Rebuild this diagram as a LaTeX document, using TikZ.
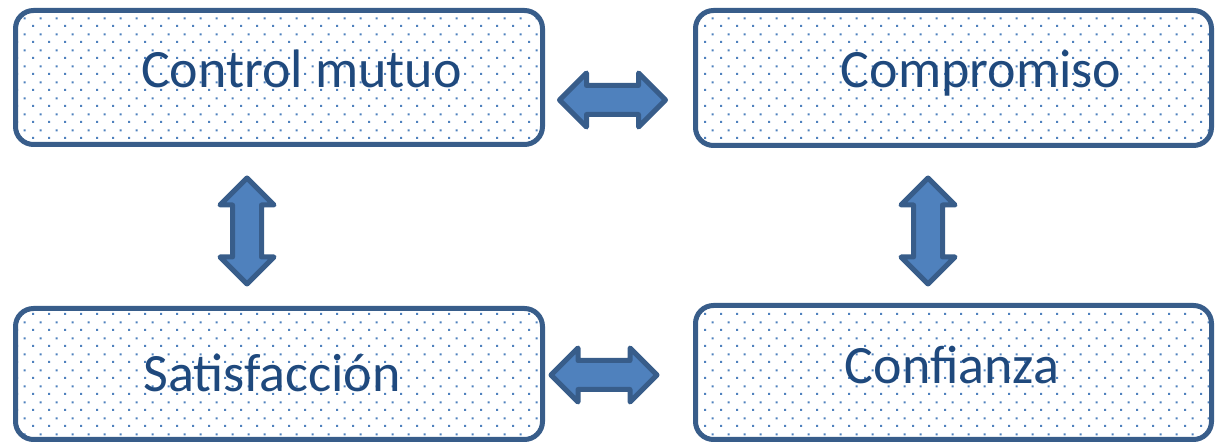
\documentclass[tikz,border=0pt]{standalone}
\usepackage{fontspec}
\setmainfont{Carlito}
\usepackage{tikz}
\usetikzlibrary{shapes.arrows,patterns.meta}

\definecolor{boxline}{HTML}{385D8A}
\definecolor{boxtext}{HTML}{1F497D}
\definecolor{dotblue}{HTML}{4F81BD}

\tikzdeclarepattern{
  name=sparsedots,
  type=uncolored,
  bounding box={(0pt,0pt) and (16pt,16pt)},
  tile size={(16pt,16pt)},
  code={
    \fill (0pt,0pt) rectangle (2.2pt,2.2pt);
    \fill (8pt,8pt) rectangle (10.2pt,10.2pt);
  }
}

\begin{document}
\begin{tikzpicture}[x=1pt,y=-1pt,
    caja/.style={draw=boxline, line width=5pt, rounded corners=18pt,
      pattern=sparsedots, pattern color=dotblue, inner sep=0pt},
    texto/.style={anchor=base, text=boxtext, font=\fontsize{54}{60}\selectfont},
    flecha/.style={double arrow, draw=boxline, fill=dotblue, line width=5pt,
      line join=round, inner sep=12pt, double arrow head extend=12.5pt,
      double arrow tip angle=90, minimum height=106pt}]
          \useasboundingbox (0,0) rectangle (1216,443);
          \node[caja, minimum width=527pt, minimum height=134pt] (control) at (279,77.5) {};
          \node[caja, minimum width=516pt, minimum height=135pt] (compromiso) at (953.5,78) {};
          \node[caja, minimum width=527pt, minimum height=131pt] (satisf) at (279,374) {};
          \node[caja, minimum width=516pt, minimum height=134pt] (confianza) at (953.5,372.5) {};
          \node[texto] (tcontrol) at (301.5,88) {Control mutuo};
          \node[texto] (tcompromiso) at (981,88) {Compromiso};
          \node[texto] (tsatisf) at (272,392) {Satisfacción};
          \node[texto] (tconfianza) at (952,384) {Confianza};
          \node[flecha] (f1) at (612.5,100) {};
          \node[flecha] (f2) at (604,375) {};
          \node[flecha, rotate=90] (f3) at (247,231) {};
          \node[flecha, rotate=90] (f4) at (928,231) {};
      \end{tikzpicture}
\end{document}
